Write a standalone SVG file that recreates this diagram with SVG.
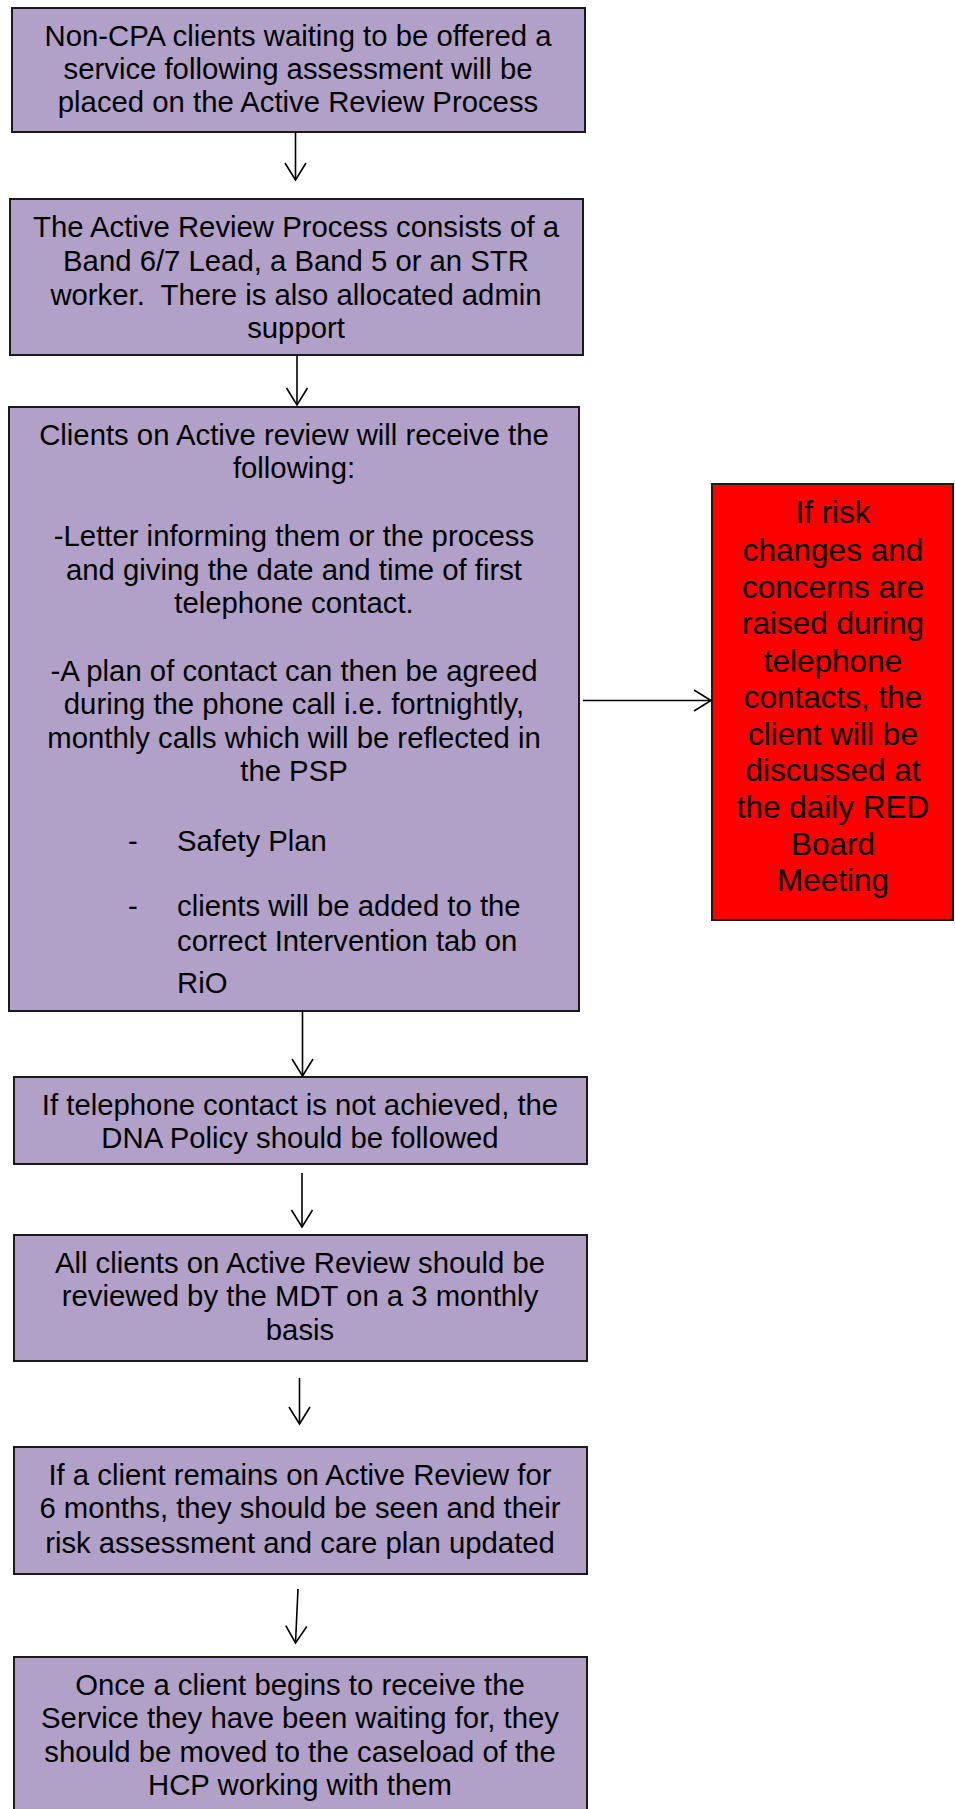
<svg xmlns="http://www.w3.org/2000/svg" width="955" height="1809" viewBox="0 0 955 1809">
<defs>
<style>
.box{fill:#B1A0C7;stroke:#1a1a1a;stroke-width:2}
.red{fill:#FF0000;stroke:#1a1a1a;stroke-width:2}
.t{font-family:"Liberation Sans",Arial,sans-serif;font-size:29.3px;fill:#000;text-anchor:middle}
.tl{font-family:"Liberation Sans",Arial,sans-serif;font-size:29.3px;fill:#000}
.tr{font-family:"Liberation Sans",Arial,sans-serif;font-size:31.5px;fill:#000;text-anchor:middle}
.c{stroke:#000;stroke-width:1.6;fill:none}
</style>
<marker id="ah" viewBox="-19 -12 21 24" refX="0" refY="0" markerWidth="21" markerHeight="24" markerUnits="userSpaceOnUse" orient="auto">
<path d="M-17,-10.5 L0,0 L-17,10.5" fill="none" stroke="#000" stroke-width="1.6"/>
</marker>
</defs>
<rect width="955" height="1809" fill="#fff"/>

<g id="n1">
<rect class="box" x="12" y="8" width="573" height="124"/>
<text class="t" x="298" y="46">Non-CPA clients waiting to be offered a</text>
<text class="t" x="298" y="79">service following assessment will be</text>
<text class="t" x="298" y="112">placed on the Active Review Process</text>
</g>

<g id="n2">
<rect class="box" x="10" y="199" width="573" height="156"/>
<text class="t" x="296" y="237">The Active Review Process consists of a</text>
<text class="t" x="296" y="271">Band 6/7 Lead, a Band 5 or an STR</text>
<text class="t" x="296" y="305">worker.&#160; There is also allocated admin</text>
<text class="t" x="296" y="338">support</text>
</g>

<g id="n3">
<rect class="box" x="9" y="407" width="570" height="604"/>
<text class="t" x="294" y="445">Clients on Active review will receive the</text>
<text class="t" x="294" y="478">following:</text>
<text class="t" x="294" y="546">-Letter informing them or the process</text>
<text class="t" x="294" y="580">and giving the date and time of first</text>
<text class="t" x="294" y="613">telephone contact.</text>
<text class="t" x="294" y="681">-A plan of contact can then be agreed</text>
<text class="t" x="294" y="714">during the phone call i.e. fortnightly,</text>
<text class="t" x="294" y="748">monthly calls which will be reflected in</text>
<text class="t" x="294" y="781">the PSP</text>
<text class="t" x="133" y="851">-</text>
<text class="tl" x="177" y="851">Safety Plan</text>
<text class="t" x="133" y="916">-</text>
<text class="tl" x="177" y="916">clients will be added to the</text>
<text class="tl" x="177" y="951">correct Intervention tab on</text>
<text class="tl" x="177" y="993">RiO</text>
</g>

<g id="n4">
<rect class="red" x="712" y="484" width="241" height="436"/>
<text class="tr" x="833" y="523">If risk</text>
<text class="tr" x="833" y="561">changes and</text>
<text class="tr" x="833" y="598">concerns are</text>
<text class="tr" x="833" y="634">raised during</text>
<text class="tr" x="833" y="672">telephone</text>
<text class="tr" x="833" y="708">contacts, the</text>
<text class="tr" x="833" y="745">client will be</text>
<text class="tr" x="833" y="781">discussed at</text>
<text class="tr" x="833" y="818">the daily RED</text>
<text class="tr" x="833" y="855">Board</text>
<text class="tr" x="833" y="891">Meeting</text>
</g>

<g id="n5">
<rect class="box" x="14" y="1077" width="573" height="87"/>
<text class="t" x="300" y="1115">If telephone contact is not achieved, the</text>
<text class="t" x="300" y="1148">DNA Policy should be followed</text>
</g>

<g id="n6">
<rect class="box" x="14" y="1235" width="573" height="126"/>
<text class="t" x="300" y="1273">All clients on Active Review should be</text>
<text class="t" x="300" y="1306">reviewed by the MDT on a 3 monthly</text>
<text class="t" x="300" y="1340">basis</text>
</g>

<g id="n7">
<rect class="box" x="14" y="1447" width="573" height="127"/>
<text class="t" x="300" y="1485">If a client remains on Active Review for</text>
<text class="t" x="300" y="1518">6 months, they should be seen and their</text>
<text class="t" x="300" y="1553">risk assessment and care plan updated</text>
</g>

<g id="n8">
<rect class="box" x="14" y="1657" width="573" height="170"/>
<text class="t" x="300" y="1695">Once a client begins to receive the</text>
<text class="t" x="300" y="1728">Service they have been waiting for, they</text>
<text class="t" x="300" y="1762">should be moved to the caseload of the</text>
<text class="t" x="300" y="1795">HCP working with them</text>
</g>

<g id="connectors">
<line class="c" x1="295.5" y1="132" x2="295.5" y2="180" marker-end="url(#ah)"/>
<line class="c" x1="297" y1="356" x2="297" y2="405" marker-end="url(#ah)"/>
<line class="c" x1="302.5" y1="1012" x2="302.5" y2="1076" marker-end="url(#ah)"/>
<line class="c" x1="302" y1="1173" x2="302" y2="1227" marker-end="url(#ah)"/>
<line class="c" x1="299.5" y1="1378" x2="299.5" y2="1424" marker-end="url(#ah)"/>
<line class="c" x1="298" y1="1589" x2="295.5" y2="1643" marker-end="url(#ah)"/>
<line class="c" x1="583" y1="700.5" x2="711" y2="700.5" marker-end="url(#ah)"/>
</g>
</svg>
